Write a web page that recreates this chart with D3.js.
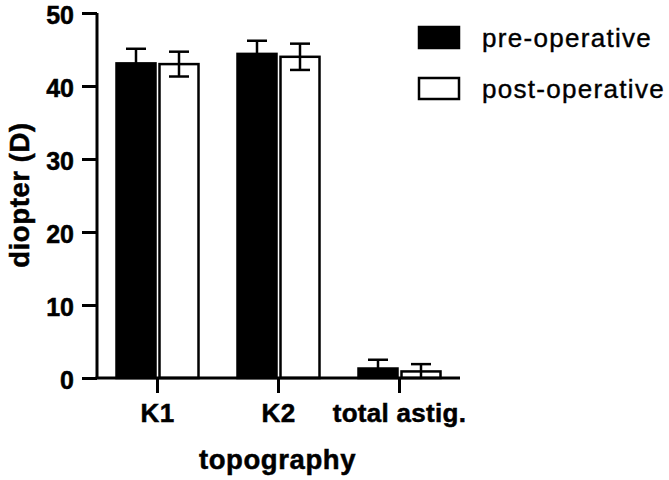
<!DOCTYPE html>
<html>
<head>
<meta charset="utf-8">
<script src="https://cdn.jsdelivr.net/npm/d3@7"></script>
<style>
    body { margin: 0; background: #fff; }
    svg { display: block; font-family: "Liberation Sans", Arial, sans-serif; }
</style>
</head>
<body>
<script>
const categories = ["K1", "K2", "total astig."];
const groups = ["pre-operative", "post-operative"];
const preMean = [43.1, 44.4, 1.3];
const preSD = [2.0, 1.8, 1.2];
const postMean = [43.0, 44.0, 0.9];
const postSD = [1.7, 1.8, 1.0];
const yTicks = [0, 10, 20, 30, 40, 50];

const width = 669, height = 480;
const x0 = 97, x1 = 460, yTop = 13, yBottom = 378;

let svg = d3.select("body").append("svg")
    .attr("width", width)
    .attr("height", height);

let xScale = d3.scaleBand()
    .domain(categories)
    .range([x0, x1])
    .padding(0);

let yScale = d3.scaleLinear()
    .domain([0, 50])
    .range([yBottom, yTop]);

// bars offset within each category: pre on the left, post on the right
let sub = d3.scaleOrdinal().domain(groups).range([-41, 2]);
const barW = 39;

let rows = [];
categories.forEach((c, i) => {
    rows.push({ cat: c, group: groups[0], mean: preMean[i], sd: preSD[i] });
    rows.push({ cat: c, group: groups[1], mean: postMean[i], sd: postSD[i] });
});
const center = c => xScale(c) + xScale.bandwidth() / 2;

// error bars first so the filled bar hides the lower whisker
let err = svg.append("g").attr("stroke", "#000").attr("stroke-width", 2.5).attr("fill", "none");
rows.forEach(d => {
    const cx = center(d.cat) + sub(d.group) + barW / 2;
    const lo = Math.max(0, d.mean - d.sd), hi = d.mean + d.sd;
    err.append("line").attr("x1", cx).attr("x2", cx).attr("y1", yScale(lo)).attr("y2", yScale(hi));
    err.append("line").attr("x1", cx - 10).attr("x2", cx + 10).attr("y1", yScale(hi)).attr("y2", yScale(hi));
    if (d.mean - d.sd > 0)
        err.append("line").attr("x1", cx - 10).attr("x2", cx + 10).attr("y1", yScale(lo)).attr("y2", yScale(lo));
});

svg.append("g").selectAll("rect")
    .data(rows.filter(d => d.group === groups[0]))
    .join("rect")
    .attr("x", d => center(d.cat) + sub(d.group))
    .attr("y", d => yScale(d.mean))
    .attr("width", barW)
    .attr("height", d => yScale(0) - yScale(d.mean))
    .attr("fill", "#000")
    .attr("stroke", "#000")
    .attr("stroke-width", 2.5);

// post bars are hollow so the whisker shows through; draw outline only
svg.append("g").selectAll("rect")
    .data(rows.filter(d => d.group === groups[1]))
    .join("rect")
    .attr("x", d => center(d.cat) + sub(d.group))
    .attr("y", d => yScale(d.mean))
    .attr("width", barW)
    .attr("height", d => yScale(0) - yScale(d.mean))
    .attr("fill", "none")
    .attr("stroke", "#000")
    .attr("stroke-width", 2.5);

// bold labels look heavier in the original, a thin stroke thickens them
function boldText(sel, size) {
    sel.attr("font-size", size).attr("font-weight", "bold")
        .attr("font-family", "Liberation Sans, Arial, sans-serif")
        .attr("fill", "#000").attr("stroke", "#000").attr("stroke-width", 0.5);
}

// y axis
let yAxis = svg.append("g")
    .attr("transform", "translate(" + x0 + ",0)")
    .call(d3.axisLeft(yScale).tickValues(yTicks).tickSize(15).tickPadding(8));
yAxis.select(".domain").attr("stroke-width", 3).attr("d", "M0," + yTop + "V" + yBottom);
yAxis.selectAll(".tick line").attr("stroke-width", 3);
boldText(yAxis.selectAll(".tick text"), 25);
yAxis.selectAll(".tick text").attr("dy", "0.42em");

// x axis
let xAxis = svg.append("g")
    .attr("transform", "translate(0," + yBottom + ")")
    .call(d3.axisBottom(xScale).tickSize(15).tickPadding(11));
xAxis.select(".domain").attr("stroke-width", 3).attr("d", "M" + (x0 - 1.5) + ",0H" + x1);
xAxis.selectAll(".tick line").attr("stroke-width", 3);
boldText(xAxis.selectAll(".tick text"), 26);
xAxis.selectAll(".tick text").attr("letter-spacing", 0.3);

// axis titles
boldText(svg.append("text")
    .attr("x", (x0 + x1) / 2 - 1)
    .attr("y", 469)
    .attr("text-anchor", "middle")
    .attr("letter-spacing", 0.6)
    .text("topography"), 27.5);

boldText(svg.append("text")
    .attr("transform", "translate(29,195) rotate(-90)")
    .attr("text-anchor", "middle")
    .attr("letter-spacing", 0.6)
    .text("diopter (D)"), 27.5);

// legend
let legend = svg.append("g").attr("transform", "translate(419,27)");
groups.forEach((g, i) => {
    let row = legend.append("g").attr("transform", "translate(0," + i * 51 + ")");
    row.append("rect")
        .attr("width", 40).attr("height", 21)
        .attr("fill", i === 0 ? "#000" : "#fff")
        .attr("stroke", "#000").attr("stroke-width", 2.5);
    row.append("text")
        .attr("x", 63).attr("y", 20)
        .attr("font-size", 26)
        .attr("letter-spacing", 1.3)
        .attr("fill", "#000").attr("stroke", "#000").attr("stroke-width", 0.4)
        .text(g);
});
</script>
</body>
</html>
